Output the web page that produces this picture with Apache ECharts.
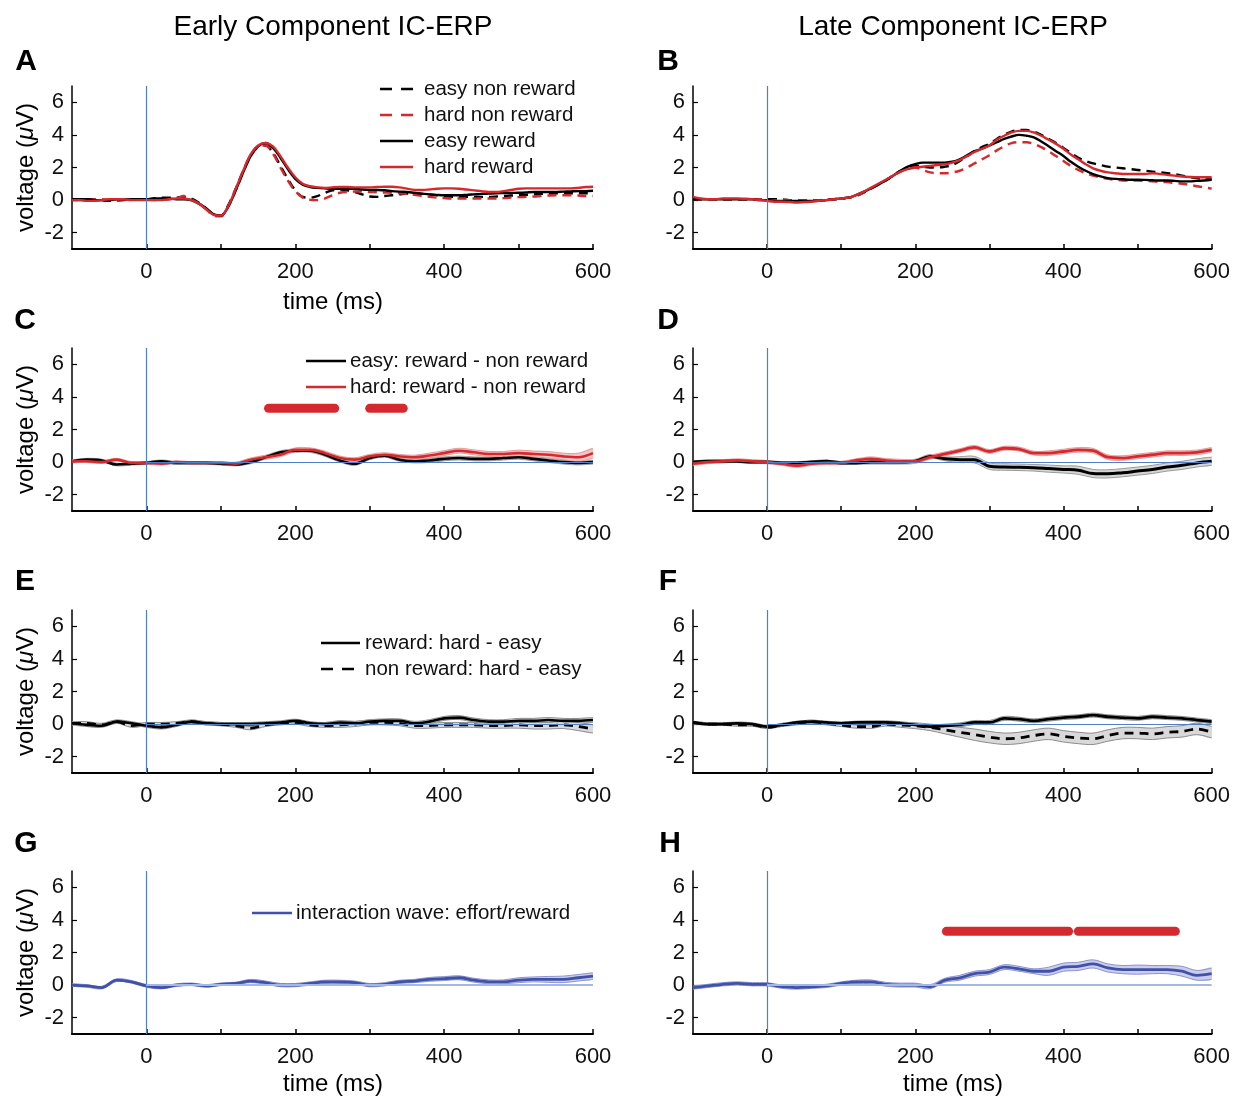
<!DOCTYPE html>
<html><head><meta charset="utf-8">
<script src="https://cdn.jsdelivr.net/npm/echarts@6/dist/echarts.min.js"></script>
<style>html,body{margin:0;padding:0;background:#fff}#c{width:1233px;height:1096px}</style>
</head><body><div id="c"></div>
<script>
// ---------- DATA ----------
const timeFine = [-100,-90,-80,-70,-60,-50,-40,-30,-20,-10,0,10,20,30,40,50,60,70,80,90,100,110,120,130,140,150,160,170,180,190,200,210,220,230,240,250,260,270,280,290,300,310,320,330,340,350,360,370,380,390,400,410,420,430,440,450,460,470,480,490,500,510,520,530,540,550,560,570,580,590,600];
const timeCoarse = [-100,-80,-60,-40,-20,0,20,40,60,80,100,120,140,160,180,200,220,240,260,280,300,320,340,360,380,400,420,440,460,480,500,520,540,560,580,600];
const xTickValues = [0,100,200,300,400,500,600];
const xLabelValues = [0,200,400,600];
const yTickValues = [-2,0,2,4,6];

// Panel A: early component ERPs
const aEasyNonReward = [0.05,0.05,0.05,0.05,0.0,-0.05,0.0,0.05,0.05,0.05, 0.05,0.1,0.15,0.15,0.15,0.2,0.1,-0.15,-0.5,-0.85, -0.95,-0.3,0.7,1.8,2.75,3.3,3.35,2.9,2.1,1.3, 0.6,0.2,0.15,0.25,0.45,0.6,0.65,0.6,0.5,0.35, 0.22,0.2,0.25,0.3,0.35,0.4,0.4,0.38,0.35,0.3, 0.25,0.2,0.2,0.2,0.2,0.2,0.2,0.22,0.25,0.28, 0.3,0.32,0.35,0.38,0.4,0.42,0.42,0.42,0.42,0.42, 0.42];
const aHardNonReward = [0.0,0.0,0.0,0.05,0.05,0.0,-0.05,0.0,0.05,0.05, 0.05,0.0,0.0,0.05,0.1,0.25,0.05,-0.2,-0.55,-0.95, -1.0,-0.4,0.6,1.7,2.7,3.25,3.35,2.85,2.0,1.2, 0.55,0.15,0.02,0.0,0.1,0.3,0.45,0.5,0.52,0.52, 0.5,0.48,0.46,0.45,0.42,0.38,0.32,0.25,0.2,0.15, 0.12,0.1,0.1,0.1,0.1,0.1,0.1,0.1,0.12,0.15, 0.18,0.2,0.22,0.25,0.28,0.3,0.3,0.3,0.28,0.25, 0.25];
const aEasyReward = [0.05,0.05,0.05,0.0,0.0,0.0,0.05,0.05,0.05,0.05, 0.05,0.1,0.1,0.1,0.05,0.05,0.0,-0.2,-0.5,-0.85, -0.95,-0.4,0.6,1.7,2.7,3.3,3.5,3.2,2.6,1.9, 1.3,0.95,0.8,0.75,0.72,0.7,0.7,0.7,0.68,0.65, 0.63,0.62,0.6,0.55,0.52,0.5,0.45,0.4,0.35,0.32, 0.3,0.3,0.3,0.32,0.35,0.38,0.4,0.42,0.43,0.44, 0.45,0.47,0.5,0.5,0.5,0.5,0.52,0.53,0.55,0.55, 0.57];
const aHardReward = [0.0,0.0,-0.05,-0.05,0.0,0.05,0.05,0.05,0.0,0.0, 0.0,0.0,0.0,0.05,0.1,0.1,0.0,-0.2,-0.55,-0.9, -0.95,-0.35,0.7,1.8,2.8,3.35,3.5,3.3,2.7,2.0, 1.4,1.0,0.85,0.78,0.75,0.78,0.8,0.8,0.78,0.78, 0.78,0.8,0.82,0.82,0.78,0.7,0.63,0.62,0.65,0.7, 0.72,0.72,0.7,0.65,0.6,0.55,0.5,0.5,0.55,0.62, 0.7,0.72,0.72,0.72,0.72,0.72,0.72,0.72,0.75,0.8, 0.82];

// Panel B: late component ERPs
const bEasyNonReward = [0.05,0.05,0.05,0.05,0.05,0.05,0.05,0.05,0.05,0.05, 0.05,0.05,0.05,0.0,0.0,0.0,-0.05,-0.05,0.0,0.05, 0.1,0.15,0.25,0.45,0.7,0.95,1.2,1.5,1.8,2.0, 2.1,2.05,2.0,2.0,2.05,2.15,2.4,2.7,3.0,3.25, 3.45,3.75,4.0,4.2,4.3,4.3,4.2,4.0,3.75,3.5, 3.2,2.9,2.6,2.4,2.25,2.15,2.05,2.0,1.95,1.9, 1.85,1.8,1.75,1.7,1.65,1.6,1.5,1.42,1.35,1.3, 1.3];
const bHardNonReward = [0.05,0.05,0.05,0.05,0.05,0.05,0.05,0.05,0.05,0.05, 0.0,0.0,0.0,0.0,0.0,0.0,0.0,0.0,0.05,0.05, 0.1,0.15,0.25,0.45,0.7,0.95,1.2,1.5,1.75,1.95, 2.0,1.85,1.7,1.65,1.65,1.7,1.8,2.0,2.25,2.5, 2.75,3.05,3.3,3.5,3.55,3.55,3.45,3.25,3.0,2.7, 2.4,2.1,1.85,1.65,1.5,1.4,1.3,1.25,1.2,1.2, 1.2,1.18,1.15,1.12,1.1,1.05,1.0,0.95,0.85,0.78, 0.7];
const bEasyReward = [0.05,0.05,0.05,0.05,0.05,0.05,0.05,0.05,0.05,0.0, 0.0,-0.05,-0.05,-0.05,-0.05,-0.05,-0.05,-0.05,0.0,0.05, 0.1,0.15,0.3,0.5,0.72,0.95,1.2,1.5,1.8,2.05, 2.2,2.3,2.3,2.3,2.3,2.35,2.5,2.75,3.0,3.15, 3.35,3.55,3.75,3.9,4.0,3.95,3.85,3.6,3.3,3.0, 2.7,2.35,2.05,1.8,1.6,1.45,1.35,1.3,1.28,1.25, 1.25,1.24,1.22,1.2,1.2,1.18,1.15,1.15,1.18,1.2, 1.25];
const bHardReward = [0.2,0.1,0.05,0.05,0.1,0.1,0.1,0.08,0.05,0.0, -0.05,-0.1,-0.1,-0.12,-0.15,-0.12,-0.1,-0.05,0.0,0.05, 0.1,0.15,0.3,0.5,0.75,1.0,1.25,1.5,1.75,1.9, 2.0,2.05,2.1,2.15,2.2,2.3,2.45,2.7,2.95,3.15, 3.35,3.7,3.95,4.15,4.25,4.25,4.15,3.95,3.7,3.45, 3.15,2.8,2.5,2.2,1.95,1.8,1.7,1.65,1.6,1.6, 1.6,1.6,1.65,1.6,1.55,1.5,1.45,1.42,1.4,1.4, 1.4];

// Panel C: early, reward - non reward
const cEasyDiff = [0.05,0.15,0.1,-0.15,-0.1,-0.05, 0.05,-0.05,-0.05,-0.05,-0.1,-0.15, 0.0,0.3,0.6,0.7,0.7,0.45, 0.1,-0.1,0.25,0.4,0.15,0.05, 0.1,0.2,0.25,0.2,0.2,0.25, 0.3,0.2,0.1,0.0,-0.05,0.0];
const cEasyHalf = [0.08,0.08,0.08,0.08,0.08,0.08, 0.08,0.08,0.08,0.08,0.08,0.08, 0.1,0.1,0.1,0.1,0.1,0.1, 0.1,0.1,0.1,0.1,0.1,0.1, 0.12,0.12,0.12,0.12,0.12,0.12, 0.12,0.12,0.12,0.12,0.12,0.12];
const cHardDiff = [0.05,0.05,0.0,0.15,-0.05,-0.05, -0.1,0.0,-0.05,-0.05,-0.05,-0.1, 0.15,0.3,0.45,0.75,0.75,0.55, 0.25,0.15,0.35,0.45,0.35,0.3, 0.4,0.55,0.7,0.6,0.5,0.5, 0.55,0.5,0.45,0.35,0.3,0.55];
const cHardHalf = [0.08,0.08,0.08,0.08,0.08,0.08, 0.08,0.08,0.08,0.08,0.08,0.1, 0.1,0.12,0.12,0.12,0.12,0.12, 0.12,0.12,0.12,0.12,0.12,0.12, 0.15,0.15,0.15,0.15,0.15,0.15, 0.18,0.18,0.2,0.2,0.25,0.3];
const cSignificant = [[164,253],[300,345]];
const sigLevel = 3.3;

// Panel D: late, reward - non reward
const dEasyDiff = [0.0,0.05,0.05,0.05,0.0,0.0, -0.05,-0.05,0.0,0.05,-0.05,-0.05, 0.0,0.0,0.0,0.05,0.35,0.2, 0.15,0.15,-0.25,-0.3,-0.32,-0.35, -0.4,-0.45,-0.5,-0.7,-0.72,-0.65, -0.55,-0.45,-0.3,-0.2,-0.05,0.05];
const dEasyHalf = [0.08,0.08,0.08,0.08,0.08,0.08, 0.08,0.08,0.08,0.08,0.08,0.08, 0.12,0.12,0.12,0.12,0.12,0.12, 0.18,0.2,0.2,0.2,0.2,0.2, 0.22,0.22,0.25,0.25,0.25,0.25, 0.25,0.25,0.25,0.25,0.25,0.25];
const dHardDiff = [-0.1,0.0,0.05,0.1,0.05,0.0, -0.1,-0.22,-0.1,-0.05,-0.05,0.1, 0.2,0.1,0.05,0.05,0.3,0.5, 0.7,0.9,0.65,0.85,0.8,0.55, 0.55,0.65,0.75,0.7,0.3,0.25, 0.35,0.45,0.55,0.55,0.6,0.75];
const dHardHalf = [0.1,0.1,0.1,0.1,0.1,0.1, 0.1,0.1,0.1,0.1,0.1,0.1, 0.12,0.12,0.12,0.12,0.12,0.12, 0.12,0.12,0.12,0.12,0.12,0.12, 0.14,0.14,0.14,0.14,0.14,0.14, 0.14,0.14,0.14,0.14,0.14,0.14];

// Panel E: early, hard - easy
const eRewardDiff = [0.05,-0.05,-0.1,0.15,0.05,-0.1, -0.2,-0.05,0.15,0.05,0.0,0.0, 0.0,0.05,0.1,0.2,0.05,0.0, 0.1,0.05,0.15,0.2,0.2,0.05, 0.15,0.35,0.4,0.25,0.15,0.15, 0.2,0.2,0.25,0.2,0.2,0.25];
const eRewardHalf = [0.1,0.1,0.1,0.1,0.1,0.1, 0.1,0.1,0.1,0.1,0.1,0.1, 0.1,0.1,0.1,0.1,0.1,0.1, 0.12,0.12,0.12,0.12,0.12,0.12, 0.12,0.12,0.12,0.12,0.12,0.12, 0.15,0.15,0.15,0.15,0.15,0.15];
const eNonRewardDiff = [0.05,0.05,-0.05,0.15,-0.1,0.0, 0.0,0.05,0.15,0.05,0.0,-0.1, -0.25,-0.05,0.05,0.1,-0.05,-0.1, -0.05,0.0,0.1,0.1,0.05,-0.1, -0.1,-0.05,-0.05,-0.05,-0.1,-0.1, -0.05,-0.1,-0.1,-0.05,-0.15,-0.3];
const eNonRewardHalf = [0.1,0.1,0.1,0.1,0.1,0.1, 0.1,0.1,0.1,0.1,0.1,0.1, 0.1,0.1,0.1,0.1,0.1,0.1, 0.15,0.15,0.15,0.15,0.15,0.15, 0.15,0.15,0.15,0.15,0.15,0.15, 0.2,0.2,0.2,0.22,0.25,0.25];

// Panel F: late, hard - easy
const fRewardDiff = [0.1,0.0,0.0,0.05,0.0,-0.15, -0.05,0.1,0.15,0.1,0.05,0.1, 0.1,0.1,0.05,-0.05,-0.15,-0.1, -0.05,0.1,0.1,0.35,0.3,0.2, 0.3,0.4,0.45,0.55,0.45,0.4, 0.35,0.45,0.4,0.35,0.25,0.15];
const fRewardHalf = [0.08,0.08,0.08,0.08,0.08,0.08, 0.08,0.08,0.08,0.08,0.08,0.08, 0.1,0.1,0.1,0.1,0.1,0.1, 0.12,0.12,0.12,0.12,0.12,0.12, 0.12,0.12,0.12,0.12,0.12,0.12, 0.12,0.12,0.12,0.12,0.12,0.12];
const fNonRewardDiff = [0.1,0.0,0.0,-0.05,-0.05,-0.2, -0.05,0.05,0.15,0.05,-0.05,-0.15, -0.15,0.0,-0.05,-0.1,-0.2,-0.35, -0.5,-0.65,-0.8,-0.9,-0.85,-0.7, -0.6,-0.75,-0.85,-0.9,-0.7,-0.55, -0.55,-0.6,-0.5,-0.45,-0.3,-0.5];
const fNonRewardHalf = [0.08,0.08,0.08,0.08,0.08,0.08, 0.1,0.1,0.1,0.1,0.1,0.1, 0.12,0.12,0.15,0.18,0.2,0.25, 0.3,0.35,0.35,0.35,0.35,0.35, 0.35,0.35,0.35,0.35,0.35,0.35, 0.35,0.35,0.35,0.35,0.35,0.35];

// Panel G / H: interaction wave
const gInteraction = [0.0,-0.05,-0.15,0.3,0.2,-0.05, -0.15,0.0,0.05,-0.05,0.05,0.1, 0.25,0.15,0.0,0.0,0.1,0.2, 0.2,0.15,0.0,0.05,0.2,0.25, 0.35,0.4,0.45,0.3,0.2,0.2, 0.3,0.35,0.35,0.35,0.45,0.55];
const gHalf = [0.08,0.08,0.08,0.08,0.08,0.08, 0.08,0.08,0.08,0.08,0.08,0.08, 0.1,0.1,0.1,0.1,0.1,0.1, 0.1,0.1,0.1,0.1,0.1,0.1, 0.12,0.12,0.12,0.12,0.12,0.12, 0.15,0.15,0.18,0.2,0.2,0.2];
const hInteraction = [-0.15,-0.05,0.05,0.1,0.05,0.05, -0.1,-0.15,-0.1,-0.05,0.1,0.2, 0.2,0.05,0.0,0.0,-0.1,0.3, 0.45,0.7,0.8,1.1,1.0,0.85, 0.85,1.1,1.15,1.3,1.05,0.95, 0.95,0.95,0.95,0.85,0.6,0.7];
const hHalf = [0.1,0.1,0.1,0.1,0.1,0.1, 0.1,0.1,0.1,0.1,0.1,0.1, 0.12,0.12,0.12,0.12,0.12,0.12, 0.15,0.15,0.15,0.15,0.15,0.15, 0.25,0.25,0.25,0.25,0.25,0.25, 0.28,0.25,0.25,0.3,0.3,0.35];
const hSignificant = [[242,407],[420,551]];

// ---------- STYLE ----------
const FONT = "'Liberation Sans', Arial, Helvetica, sans-serif";
const RED = '#d42a2f', BLACK = '#000000', BLUE = '#3f51a8';
const ZERO_BLUE = '#4f7fc6', ZERO_LIGHT = '#a3b8e4';
const colLeft = [72, 693];
const colWidth = [521, 522];
const rowTop = [86, 348, 610, 871];
const GH = 163;
const SMOOTH = 0.35;

const grids = [], xAxes = [], yAxes = [], series = [];
for (let r = 0; r < 4; r++) {
  for (let c = 0; c < 2; c++) {
    const gi = r * 2 + c;
    grids.push({left: colLeft[c], top: rowTop[r], width: colWidth[c], height: GH, containLabel: false});
    xAxes.push({
      gridIndex: gi, type: 'value', min: -100, max: 600, interval: 100,
      axisLine: {show: true, onZero: false, lineStyle: {color: '#000', width: 2}},
      axisTick: {show: true, inside: true, length: 5, customValues: xTickValues, lineStyle: {color: '#000', width: 1.5}},
      axisLabel: {show: true, customValues: xLabelValues, fontSize: 22, color: '#111', margin: 12, fontFamily: FONT,
        formatter: v => (v % 200 === 0 && v >= 0) ? String(v) : ''},
      splitLine: {show: false}
    });
    yAxes.push({
      gridIndex: gi, type: 'value', min: -3, max: 7, interval: 1,
      axisLine: {show: true, onZero: false, lineStyle: {color: '#000', width: 1.5}},
      axisTick: {show: true, inside: true, length: 5, customValues: yTickValues, lineStyle: {color: '#000', width: 1.2}},
      axisLabel: {show: true, customValues: yTickValues, fontSize: 22, color: '#111', margin: 8, fontFamily: FONT,
        formatter: v => (Math.round(v) % 2 === 0 && v > -3 && v < 7) ? String(v) : ''},
      splitLine: {show: false}
    });
  }
}

function pts(x, y) { return x.map((t, i) => [t, y[i]]); }

function addLine(gi, name, x, y, color, dashed, width, z) {
  series.push({
    type: 'line', name, xAxisIndex: gi, yAxisIndex: gi, data: pts(x, y),
    smooth: SMOOTH, symbol: 'none', silent: true, animation: false, z: z || 4,
    lineStyle: {color, width: width || 2.4, type: dashed ? [9, 6] : 'solid'},
    itemStyle: {color}
  });
}
function addBand(gi, x, mean, half, fill, border) {
  const lo = x.map((t, i) => [t, mean[i] - half[i]]);
  const hi = x.map((t, i) => [t, mean[i] + half[i]]);
  series.push({
    type: 'custom', xAxisIndex: gi, yAxisIndex: gi, data: [[x[0], mean[0]]], silent: true, animation: false, z: 2, clip: true,
    renderItem: (params, api) => {
      const up = hi.map(p => api.coord(p));
      const dn = lo.map(p => api.coord(p));
      return {type: 'group', children: [
        {type: 'polygon', shape: {points: up.concat(dn.slice().reverse()), smooth: SMOOTH}, style: {fill: fill, stroke: null}},
        {type: 'polyline', shape: {points: up, smooth: SMOOTH}, style: {stroke: border, lineWidth: 1, fill: null}},
        {type: 'polyline', shape: {points: dn, smooth: SMOOTH}, style: {stroke: border, lineWidth: 1, fill: null}}
      ]};
    }
  });
}
function addRefLines(gi, zeroStyle) {
  const data = [[{xAxis: 0, yAxis: -3, lineStyle: {color: ZERO_BLUE, width: 1.2}}, {xAxis: 0, yAxis: 7}]];
  if (zeroStyle) data.push([{coord: [0, 0], lineStyle: zeroStyle}, {coord: [600, 0]}]);
  series.push({
    type: 'line', name: 'ref' + gi, xAxisIndex: gi, yAxisIndex: gi, data: [], silent: true, animation: false, z: 1,
    markLine: {silent: true, symbol: ['none', 'none'], label: {show: false}, animation: false,
      lineStyle: {color: ZERO_BLUE, width: 1.2, type: 'solid'}, data}
  });
}
function addSig(gi, segs) {
  segs.forEach((s, k) => {
    series.push({
      type: 'line', name: 'sig' + gi + '_' + k, xAxisIndex: gi, yAxisIndex: gi,
      data: [[s[0], sigLevel], [s[1], sigLevel]], symbol: 'none', silent: true, animation: false, z: 5,
      lineStyle: {color: RED, width: 9, cap: 'round'}
    });
  });
}
const zeroThin = {color: ZERO_BLUE, width: 1.1, type: 'solid'};
const zeroWide = {color: ZERO_LIGHT, width: 2, type: 'solid'};

// A
addRefLines(0, null);
addLine(0, 'easy non reward', timeFine, aEasyNonReward, BLACK, true);
addLine(0, 'hard non reward', timeFine, aHardNonReward, RED, true);
addLine(0, 'easy reward', timeFine, aEasyReward, BLACK, false);
addLine(0, 'hard reward', timeFine, aHardReward, RED, false);
// B
addRefLines(1, null);
addLine(1, 'B easy non reward', timeFine, bEasyNonReward, BLACK, true);
addLine(1, 'B hard non reward', timeFine, bHardNonReward, RED, true);
addLine(1, 'B easy reward', timeFine, bEasyReward, BLACK, false);
addLine(1, 'B hard reward', timeFine, bHardReward, RED, false);
// C
addRefLines(2, zeroThin);
addBand(2, timeCoarse, cEasyDiff, cEasyHalf, '#d6d6d6', '#9a9a9a');
addBand(2, timeCoarse, cHardDiff, cHardHalf, '#f5c4c4', '#e59a9a');
addLine(2, 'easy: reward - non reward', timeCoarse, cEasyDiff, BLACK, false, 2.6);
addLine(2, 'hard: reward - non reward', timeCoarse, cHardDiff, RED, false, 2.6);
addSig(2, cSignificant);
// D
addRefLines(3, zeroThin);
addBand(3, timeCoarse, dEasyDiff, dEasyHalf, '#d6d6d6', '#9a9a9a');
addBand(3, timeCoarse, dHardDiff, dHardHalf, '#f5c4c4', '#e59a9a');
addLine(3, 'D easy diff', timeCoarse, dEasyDiff, BLACK, false, 3);
addLine(3, 'D hard diff', timeCoarse, dHardDiff, RED, false, 2.8);
// E
addRefLines(4, zeroThin);
addBand(4, timeCoarse, eRewardDiff, eRewardHalf, '#d9d9d9', '#8c8c8c');
addBand(4, timeCoarse, eNonRewardDiff, eNonRewardHalf, '#d9d9d9', '#8c8c8c');
addLine(4, 'reward: hard - easy', timeCoarse, eRewardDiff, BLACK, false, 2.6);
addLine(4, 'non reward: hard - easy', timeCoarse, eNonRewardDiff, BLACK, true, 2.6);
// F
addRefLines(5, zeroThin);
addBand(5, timeCoarse, fRewardDiff, fRewardHalf, '#d9d9d9', '#8c8c8c');
addBand(5, timeCoarse, fNonRewardDiff, fNonRewardHalf, '#d9d9d9', '#8c8c8c');
addLine(5, 'F reward diff', timeCoarse, fRewardDiff, BLACK, false, 2.8);
addLine(5, 'F non reward diff', timeCoarse, fNonRewardDiff, BLACK, true, 2.8);
// G
addRefLines(6, zeroWide);
addBand(6, timeCoarse, gInteraction, gHalf, '#cbcdeb', '#8d93cf');
addLine(6, 'interaction wave: effort/reward', timeCoarse, gInteraction, BLUE, false, 2.8);
// H
addRefLines(7, zeroWide);
addBand(7, timeCoarse, hInteraction, hHalf, '#cbcdeb', '#8d93cf');
addLine(7, 'H interaction', timeCoarse, hInteraction, BLUE, false, 2.8);
addSig(7, hSignificant);

// ---------- TEXT / LEGENDS ----------
const graphic = [];
function txt(x, y, text, size, weight, align) {
  graphic.push({type: 'text', x, y, silent: true,
    style: {text, fontSize: size, fontWeight: weight || 'normal', fill: '#000', fontFamily: FONT, align: align || 'center', verticalAlign: 'middle'}});
}
function legendItem(x1, x2, y, color, dashed, label, tx) {
  graphic.push({type: 'line', silent: true, shape: {x1, y1: y, x2, y2: y},
    style: {stroke: color, lineWidth: 2.4, lineDash: dashed ? [12, 9] : null}});
  graphic.push({type: 'text', x: tx, y, silent: true,
    style: {text: label, fontSize: 20.5, fill: '#111', fontFamily: FONT, align: 'left', verticalAlign: 'middle'}});
}
const legendA = ['easy non reward', 'hard non reward', 'easy reward', 'hard reward'];
legendItem(380, 413, 89, BLACK, true, legendA[0], 424);
legendItem(380, 413, 115, RED, true, legendA[1], 424);
legendItem(380, 413, 141, BLACK, false, legendA[2], 424);
legendItem(380, 413, 167, RED, false, legendA[3], 424);
const legendC = ['easy: reward - non reward', 'hard: reward - non reward'];
legendItem(306, 346, 361, BLACK, false, legendC[0], 350);
legendItem(306, 346, 387, RED, false, legendC[1], 350);
const legendE = ['reward: hard - easy', 'non reward: hard - easy'];
legendItem(321, 360, 643, BLACK, false, legendE[0], 365);
legendItem(321, 360, 669, BLACK, true, legendE[1], 365);
legendItem(252, 292, 913, BLUE, false, 'interaction wave: effort/reward', 296);

txt(333, 27, 'Early Component IC-ERP', 28);
txt(953, 27, 'Late Component IC-ERP', 28);
const letters = [['A',26,62],['B',668,62],['C',25,321],['D',668,321],['E',25,582],['F',668,582],['G',26,844],['H',670,844]];
letters.forEach(l => txt(l[1], l[2], l[0], 30, 'bold'));
txt(333, 302, 'time (ms)', 24);
txt(333, 1084, 'time (ms)', 24);
txt(953, 1084, 'time (ms)', 24);
rowTop.forEach(t => {
  graphic.push({type: 'text', x: 26, y: t + GH / 2, rotation: Math.PI / 2, silent: true,
    style: {text: '{a|voltage (}{b|μ}{a|V)}', align: 'center', verticalAlign: 'middle',
      rich: {a: {fontSize: 24, fontFamily: FONT, fill: '#000'}, b: {fontSize: 24, fontFamily: FONT, fontStyle: 'italic', fill: '#000'}}}});
});

const chart = echarts.init(document.getElementById('c'), null, {renderer: 'canvas'});
chart.setOption({
  backgroundColor: '#ffffff', animation: false,
  grid: grids, xAxis: xAxes, yAxis: yAxes, series, graphic
});
</script></body></html>
